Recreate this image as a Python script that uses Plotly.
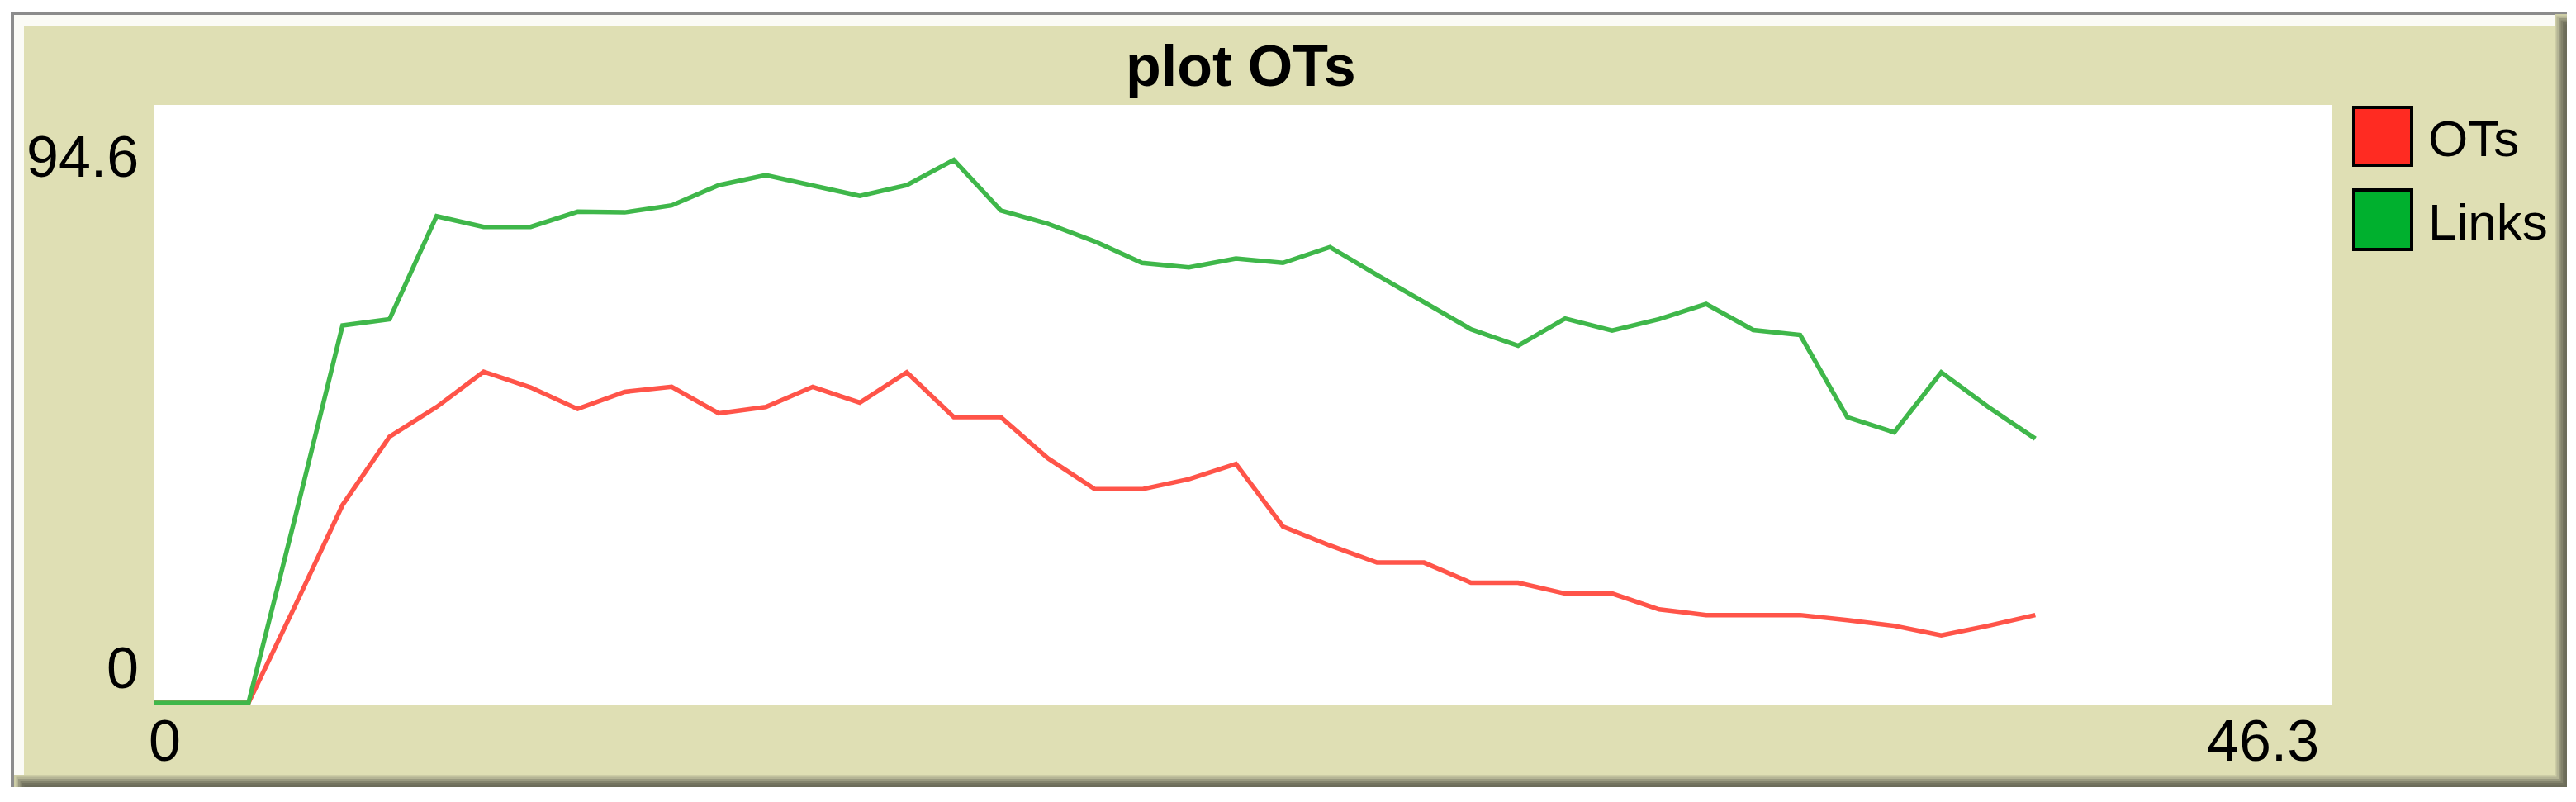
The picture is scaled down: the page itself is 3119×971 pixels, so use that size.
import plotly.graph_objects as go

# ---- data ----
ticks = list(range(0, 41))
ots = [0, 0, 0, 15.5, 31.3, 42.1, 46.8, 52.4, 49.9, 46.5, 49.2, 50.0, 45.8, 46.8, 50.0,
       47.5, 52.3, 45.2, 45.2, 38.7, 33.8, 33.8, 35.4, 37.8, 27.9, 24.9, 22.2, 22.2,
       19.0, 19.0, 17.3, 17.3, 14.8, 13.9, 13.9, 13.9, 13.1, 12.2, 10.7, 12.2, 13.9]
links = [0, 0, 0, 29.6, 59.7, 60.7, 77.0, 75.3, 75.3, 77.7, 77.6, 78.7, 81.9, 83.5, 81.8,
         80.2, 81.9, 85.9, 77.9, 75.8, 73.0, 69.6, 68.9, 70.3, 69.6, 72.1, 67.7, 63.4,
         59.1, 56.5, 60.8, 58.9, 60.7, 63.1, 59.0, 58.2, 45.2, 42.8, 52.3, 46.8, 41.8]
series_names = ["OTs", "Links"]
line_colors = ["#FF5449", "#3FB74A"]
swatch_colors = ["#FF2B22", "#00B02E"]
title_text = "plot OTs"
x_min, x_max = 0, 46.3
y_min, y_max = 0, 94.6
x_labels = ["0", "46.3"]
y_labels = ["94.6", "0"]

W, H = 3119, 971
L, R, T, B = 187, 2823, 127, 853
BEIGE = "#DFDFB4"
FONT = "Liberation Sans, Arial, sans-serif"


def px(xp):
    return (xp - L) / (R - L)


def py(yp):
    return (B - yp) / (B - T)


fig = go.Figure()
for name, vals, col in zip(series_names, [ots, links], line_colors):
    fig.add_trace(go.Scatter(x=ticks, y=vals, mode="lines", name=name,
                             line=dict(color=col, width=5.5), showlegend=False))

shapes = []


def rect(x0, y0, x1, y1, color):
    shapes.append(dict(type="rect", xref="paper", yref="paper",
                       x0=px(x0), x1=px(x1), y0=py(y1), y1=py(y0),
                       fillcolor=color, line=dict(width=0), layer="below"))


# outer white margins
rect(0, 0, W, 14, "white")
rect(0, 0, 13, H, "white")
rect(3108, 0, W, H, "white")
rect(0, 953, W, H, "white")
# grey frame line (top / left)
rect(13, 14, 3108, 18, "#8C8C8C")
rect(13, 14, 17, 953, "#8C8C8C")
# white inner bevel
rect(17, 18, 3093, 32, "#FBFBF6")
rect(17, 18, 29, 938, "#FBFBF6")
# dark bevel right / bottom (gradient)
bevel = ["#CDCDA6", "#B5B595", "#9A9A80", "#83836C", "#73735F", "#6C6C5A"]
for i, c in enumerate(bevel):
    rect(3093 + i * 2.5, 17 + i * 2.5, 3108, 953, c)
    rect(17 + i * 2.5, 938 + i * 2.5, 3108, 953, c)

# legend swatches
sw = [(130, 200), (230, 302)]
for (y0, y1), c in zip(sw, swatch_colors):
    shapes.append(dict(type="rect", xref="paper", yref="paper",
                       x0=px(2850), x1=px(2920), y0=py(y1), y1=py(y0),
                       fillcolor=c, line=dict(color="black", width=4), layer="above"))

annotations = [
    dict(text="<b>" + title_text + "</b>", x=px(1502), y=py(80), xref="paper", yref="paper",
         xanchor="center", yanchor="middle", showarrow=False,
         font=dict(family=FONT, size=70, color="black")),
    dict(text=y_labels[0], x=px(170), y=py(190), xref="paper", yref="paper",
         xanchor="right", yanchor="middle", showarrow=False,
         font=dict(family=FONT, size=70, color="black")),
    dict(text=y_labels[1], x=px(170), y=py(809), xref="paper", yref="paper",
         xanchor="right", yanchor="middle", showarrow=False,
         font=dict(family=FONT, size=70, color="black")),
    dict(text=x_labels[0], x=px(178), y=py(897), xref="paper", yref="paper",
         xanchor="left", yanchor="middle", showarrow=False,
         font=dict(family=FONT, size=70, color="black")),
    dict(text=x_labels[1], x=px(2810), y=py(897), xref="paper", yref="paper",
         xanchor="right", yanchor="middle", showarrow=False,
         font=dict(family=FONT, size=70, color="black")),
]
for name, (y0, y1) in zip(series_names, sw):
    annotations.append(dict(text=name, x=px(2938), y=py((y0 + y1) / 2 + 2), xref="paper", yref="paper",
                            xanchor="left", yanchor="middle", showarrow=False,
                            font=dict(family=FONT, size=62, color="black")))

fig.update_layout(
    width=W, height=H,
    margin=dict(l=L, r=W - R, t=T, b=H - B, pad=0),
    paper_bgcolor=BEIGE, plot_bgcolor="white",
    xaxis=dict(range=[x_min, x_max], showgrid=False, zeroline=False,
               showticklabels=False, showline=False, ticks=""),
    yaxis=dict(range=[y_min - 0.26, y_max], showgrid=False, zeroline=False,
               showticklabels=False, showline=False, ticks=""),
    shapes=shapes, annotations=annotations, showlegend=False,
)
fig.write_html("out.html", config={"displayModeBar": False},
               post_script="document.body.style.margin='0';document.body.style.overflow='hidden';")
